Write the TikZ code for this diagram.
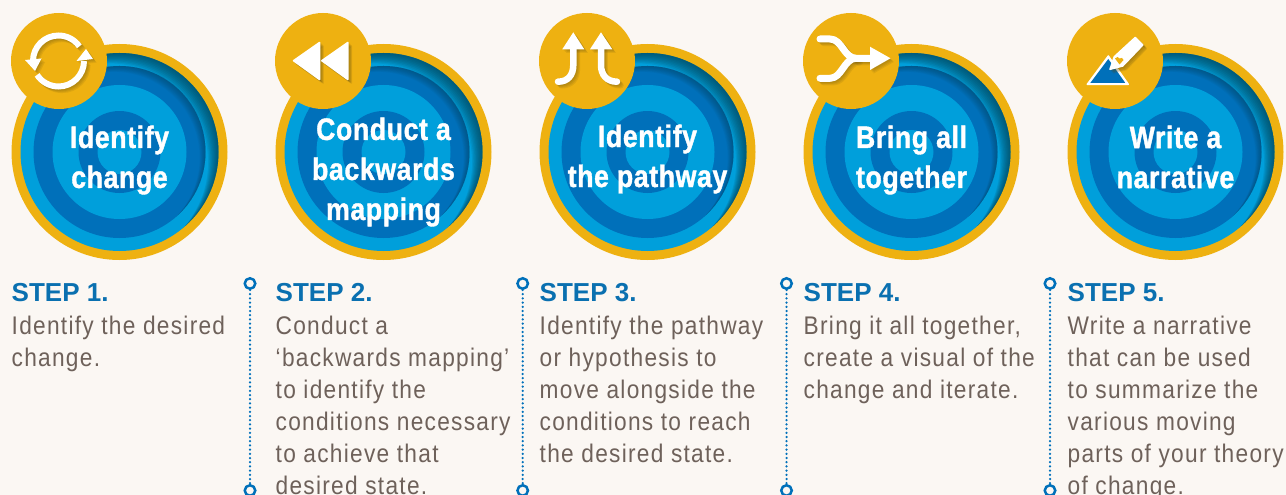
\documentclass[tikz,border=0pt]{standalone}
\usepackage{fontspec}
\setmainfont{Liberation Sans}
\newfontfamily\bodyfam[FakeStretch=0.89,LetterSpace=5]{Liberation Sans}
\newfontfamily\headfam[FakeStretch=0.86,LetterSpace=2,FakeBold=1.2]{Liberation Sans Bold}
\newfontfamily\stepfam{Liberation Sans Bold}
\definecolor{bgc}{HTML}{FBF7F3}
\definecolor{gold}{HTML}{EEB111}
\definecolor{lblue}{HTML}{009FDB}
\definecolor{dblue}{HTML}{0070BA}
\definecolor{stepblue}{HTML}{0A70B0}
\definecolor{brownt}{HTML}{6E615A}
\definecolor{shadowc}{HTML}{5A4A10}
\definecolor{deep}{HTML}{003A4A}
\tikzset{
  x=1pt,y=-1pt,
  disc/.style={circle,inner sep=0pt,minimum size=216pt,fill=gold},
  badge/.style={circle,inner sep=0pt,minimum size=96pt,fill=gold},
  title/.style={text=white,align=center,inner sep=0pt,font=\headfam\fontsize{31}{40}\selectfont},
  steptext/.style={text=brownt,align=left,inner sep=0pt,anchor=north west,font=\bodyfam\fontsize{25.5}{32}\selectfont},
  endpoint/.style={circle,draw=dblue,line width=2.5pt,fill=none,inner sep=0pt,minimum size=10.5pt},
  dotline/.style={draw=dblue,line width=2.5pt,line cap=round,dash pattern=on 0pt off 4.2pt},
}
\newcommand{\stephead}[1]{{\stepfam\color{stepblue}\fontsize{26}{32}\selectfont #1}}
% nested rings with an inner shadow at the upper right
\newcommand{\rings}[2]{%
  \begin{scope}[shift={(#1,#2)}]
    \foreach \r/\c/\op/\d in {99/lblue/.105/1.6,86/dblue/.05/.9,67/lblue/.0/1,41/dblue/.0/1,22/lblue/.0/1}{
      \fill[\c] (0,0) circle (\r);
      \ifdim \op pt>0pt
      \begin{scope}
        \clip (0,0) circle (\r);
        \foreach \k in {1,...,9}{
          \fill[deep,opacity=\op,even odd rule] (0,0) circle (\r+2) (-\k*\d*.72,\k*\d*.72) circle (\r);
        }
      \end{scope}
      \fi
    }
  \end{scope}}
\newcommand{\iconshadow}[1]{%
  \foreach \k in {1,...,4}{
    \begin{scope}[shift={(\k*.9,\k*.9)},opacity=.11]#1{shadowc}\end{scope}
  }%
  #1{white}}
\newcommand{\iconA}[1]{%
  \draw[#1,line width=6pt] (33,61) arc[start angle=180,end angle=325,radius=25.5];
  \draw[#1,line width=6pt] (84,61) arc[start angle=0,end angle=147,radius=25.5];
  \fill[#1] (25,60) -- (41.5,58.5) -- (35,71) -- cycle;
  \fill[#1] (76.5,61) -- (93,59) -- (86,49) -- cycle;}
\newcommand{\iconB}[1]{%
  \filldraw[#1,line width=1.5pt,line join=round] (293.5,60.7) -- (319.5,42.5) -- (319.5,79.5) -- cycle;
  \filldraw[#1,line width=1.5pt,line join=round] (321.8,60.7) -- (347.8,42.5) -- (347.8,79.5) -- cycle;}
\newcommand{\iconC}[1]{%
  \fill[#1] (573.3,32.3) -- (584.3,49.3) -- (562.3,49.3) -- cycle;
  \fill[#1] (601,32.3) -- (612.3,49.3) -- (590,49.3) -- cycle;
  \draw[#1,line width=6.5pt,line cap=round] (573.3,47) -- (573.3,65) .. controls (573.3,75) and (568,81.7) .. (558,81.7);
  \draw[#1,line width=6.5pt,line cap=round] (601,47) -- (601,65) .. controls (601,75) and (607,81.7) .. (617,81.7);}
\newcommand{\iconD}[1]{%
  \draw[#1,line width=7pt,line cap=round,line join=round] (820,39) -- (830,39) .. controls (842,39) and (844,58.3) .. (856,58.3) -- (872,58.3);
  \draw[#1,line width=7pt,line cap=round,line join=round] (820,78.3) -- (830,78.3) .. controls (842,78.3) and (844,58.3) .. (856,58.3);
  \fill[#1] (870,46.7) -- (890.5,58.3) -- (870,70) -- cycle;}
\newcommand{\iconE}[1]{%
  \filldraw[fill=#1,draw=#1,line width=1.5pt,line join=round] (1135.2,37.5) -- (1142.8,45) -- (1122.7,66) -- (1110,69.3) -- (1114.3,56.7) -- cycle;}
\newcommand{\iconEb}[1]{%
  \filldraw[fill=#1,draw=#1,line width=1.5pt,line join=round] (1108.3,56) -- (1128.3,84.3) -- (1087.3,84.3) -- cycle;}
\begin{document}
\begin{tikzpicture}
\useasboundingbox (0,0) rectangle (1286,495);
\fill[bgc] (0,0) rectangle (1286,495);
% discs, rings, badges
\foreach \i/\x in {1/119.5,2/383.5,3/647.5,4/911.5,5/1175.5}{
  \node[disc] (disc\i) at (\x,152) {};
  \rings{\x}{152}
  \node[badge] (badge\i) at (\x-60.5,61) {};
}
% circle titles
\node[title] (t1) at (119.5,160) {Identify\\change};
\node[title] (t2) at (383.5,172) {Conduct a\\backwards\\mapping};
\node[title] (t3) at (647.5,159) {Identify\\the pathway};
\node[title] (t4) at (911.5,160) {Bring all\\together};
\node[title] (t5) at (1175.5,157) {Write a\\narrative};
% icons
\iconshadow{\iconA}
\iconshadow{\iconB}
\iconshadow{\iconC}
\iconshadow{\iconD}
\iconEb{white}
\fill[dblue] (1108.3,59) -- (1125.2,82.8) -- (1090.4,82.8) -- cycle;
\iconshadow{\iconE}
\fill[gold] (1119.5,64.5) -- (1115,58.5) .. controls (1116.5,56.5) and (1118.8,56.5) .. (1119.5,58.5) .. controls (1120.8,57) and (1123.5,58) .. (1123.5,60) -- cycle;
% step texts
\node[steptext] (s1) at (11.5,283) {\stephead{STEP 1.}\\[1pt]Identify the desired\\change.};
\node[steptext] (s2) at (275.5,283) {\stephead{STEP 2.}\\[1pt]Conduct a\\‘backwards mapping’\\to identify the\\conditions necessary\\to achieve that\\desired state.};
\node[steptext] (s3) at (539.5,283) {\stephead{STEP 3.}\\[1pt]Identify the pathway\\or hypothesis to\\move alongside the\\conditions to reach\\the desired state.};
\node[steptext] (s4) at (803.5,283) {\stephead{STEP 4.}\\[1pt]Bring it all together,\\create a visual of the\\change and iterate.};
\node[steptext] (s5) at (1067.5,283) {\stephead{STEP 5.}\\[1pt]Write a narrative\\that can be used\\to summarize the\\various moving\\parts of your theory\\of change.};
% dotted separators
\foreach \i/\x in {1/250,2/522.7,3/786.5,4/1050}{
  \node[endpoint] (top\i) at (\x,283.5) {};
  \node[endpoint] (bot\i) at (\x,490.5) {};
  \draw[dotline] (top\i) -- (bot\i);
}
\end{tikzpicture}
\end{document}
